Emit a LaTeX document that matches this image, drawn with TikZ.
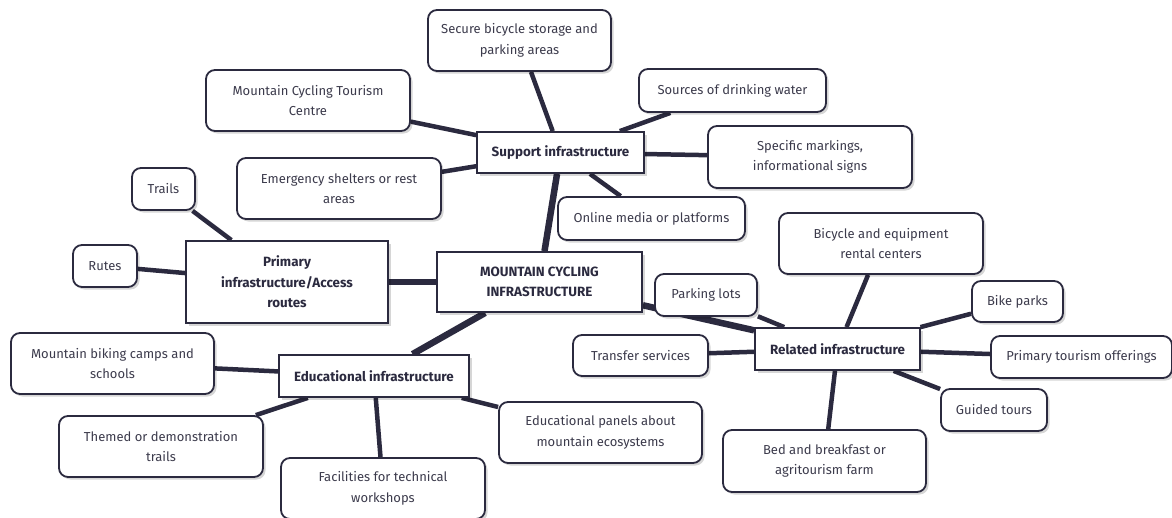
\documentclass[tikz,border=0pt]{standalone}
\usepackage{fontspec}
\setmainfont{Fira Sans}
\usetikzlibrary{shadows,backgrounds}
\definecolor{ink}{HTML}{2B2A3F}
\definecolor{txt}{HTML}{3C3B4C}
\tikzset{
  base/.style={draw=ink, line width=1.8pt, fill=white, align=center, inner sep=0pt,
    drop shadow={shadow xshift=2.5pt, shadow yshift=-2.5pt, opacity=0.16, fill=black}},
  leaf/.style={base, rounded corners=9pt, text=txt, font=\fontsize{13}{20.5}\selectfont},
  hub/.style={base, rounded corners=0pt, text=ink, font=\bfseries\fontsize{13.4}{20.5}\selectfont},
  sz/.style 2 args={minimum width=#1pt, minimum height=#2pt},
  trunk/.style={draw=ink, line width=6.5pt},
  twig/.style={draw=ink, line width=4.5pt},
}
\begin{document}
\begin{tikzpicture}[x=1pt, y=-1pt]
\useasboundingbox (0,0) rectangle (1172,517);
\clip (0,0) rectangle (1172,517);

% central topic and its four branches
\node[hub, sz={205}{60}] (root) at (539.5,282) {MOUNTAIN CYCLING\\INFRASTRUCTURE};
\node[hub, sz={167}{41}] (support) at (560.5,152.5) {Support infrastructure};
\node[hub, sz={202}{82}] (primary) at (287,282) {Primary\\infrastructure/Access\\routes};
\node[hub, sz={190}{42}] (edu) at (374,376) {Educational infrastructure};
\node[hub, sz={165}{42}] (related) at (837.5,349) {Related infrastructure};

% support infrastructure
\node[leaf, sz={183}{61}] (secure) at (519.5,40.5) {Secure bicycle storage and\\parking areas};
\node[leaf, sz={204}{61}] (centre) at (308,100.5) {Mountain Cycling Tourism\\Centre};
\node[leaf, sz={187}{43}] (water) at (732.5,90.5) {Sources of drinking water};
\node[leaf, sz={204}{62}] (signs) at (810,157) {Specific markings,\\informational signs};
\node[leaf, sz={204}{61}] (shelters) at (339,188.5) {Emergency shelters or rest\\areas};
\node[leaf, sz={187}{43}] (online) at (651.5,218.5) {Online media or platforms};

% primary infrastructure
\node[leaf, sz={63}{42}] (trails) at (163.5,189) {Trails};
\node[leaf, sz={64}{42}] (rutes) at (105,266) {Rutes};

% educational infrastructure
\node[leaf, sz={203}{61}] (camps) at (112.5,363.5) {Mountain biking camps and\\schools};
\node[leaf, sz={204}{61}] (themed) at (161,446.5) {Themed or demonstration\\trails};
\node[leaf, sz={204}{61}] (workshops) at (383,488.5) {Facilities for technical\\workshops};
\node[leaf, sz={203}{61}] (panels) at (600.5,432.5) {Educational panels about\\mountain ecosystems};

% related infrastructure
\node[leaf, sz={204}{61}] (rental) at (881,243.5) {Bicycle and equipment\\rental centers};
\node[leaf, sz={102}{42}] (parking) at (706,295) {Parking lots};
\node[leaf, sz={91}{41}] (bikeparks) at (1017.5,301.5) {Bike parks};
\node[leaf, sz={135}{41}] (transfer) at (640.5,355.5) {Transfer services};
\node[leaf, sz={181}{42}] (tourism) at (1081.5,357) {Primary tourism offerings};
\node[leaf, sz={106}{42}] (guided) at (994,410) {Guided tours};
\node[leaf, sz={203}{62}] (bnb) at (824.5,461) {Bed and breakfast or\\agritourism farm};

\begin{pgfonlayer}{background}
  \draw[trunk] (root) -- (support);
  \draw[trunk] (root) -- (primary);
  \draw[trunk] (root) -- (edu);
  \draw[trunk] (root) -- (related);

  \foreach \n in {secure, centre, water, signs, shelters, online}
    \draw[twig] (support) -- (\n);
  \foreach \n in {trails, rutes}
    \draw[twig] (primary) -- (\n);
  \foreach \n in {camps, themed, workshops, panels}
    \draw[twig] (edu) -- (\n);
  \foreach \n in {rental, parking, bikeparks, transfer, tourism, guided, bnb}
    \draw[twig] (related) -- (\n);
\end{pgfonlayer}
\end{tikzpicture}
\end{document}
